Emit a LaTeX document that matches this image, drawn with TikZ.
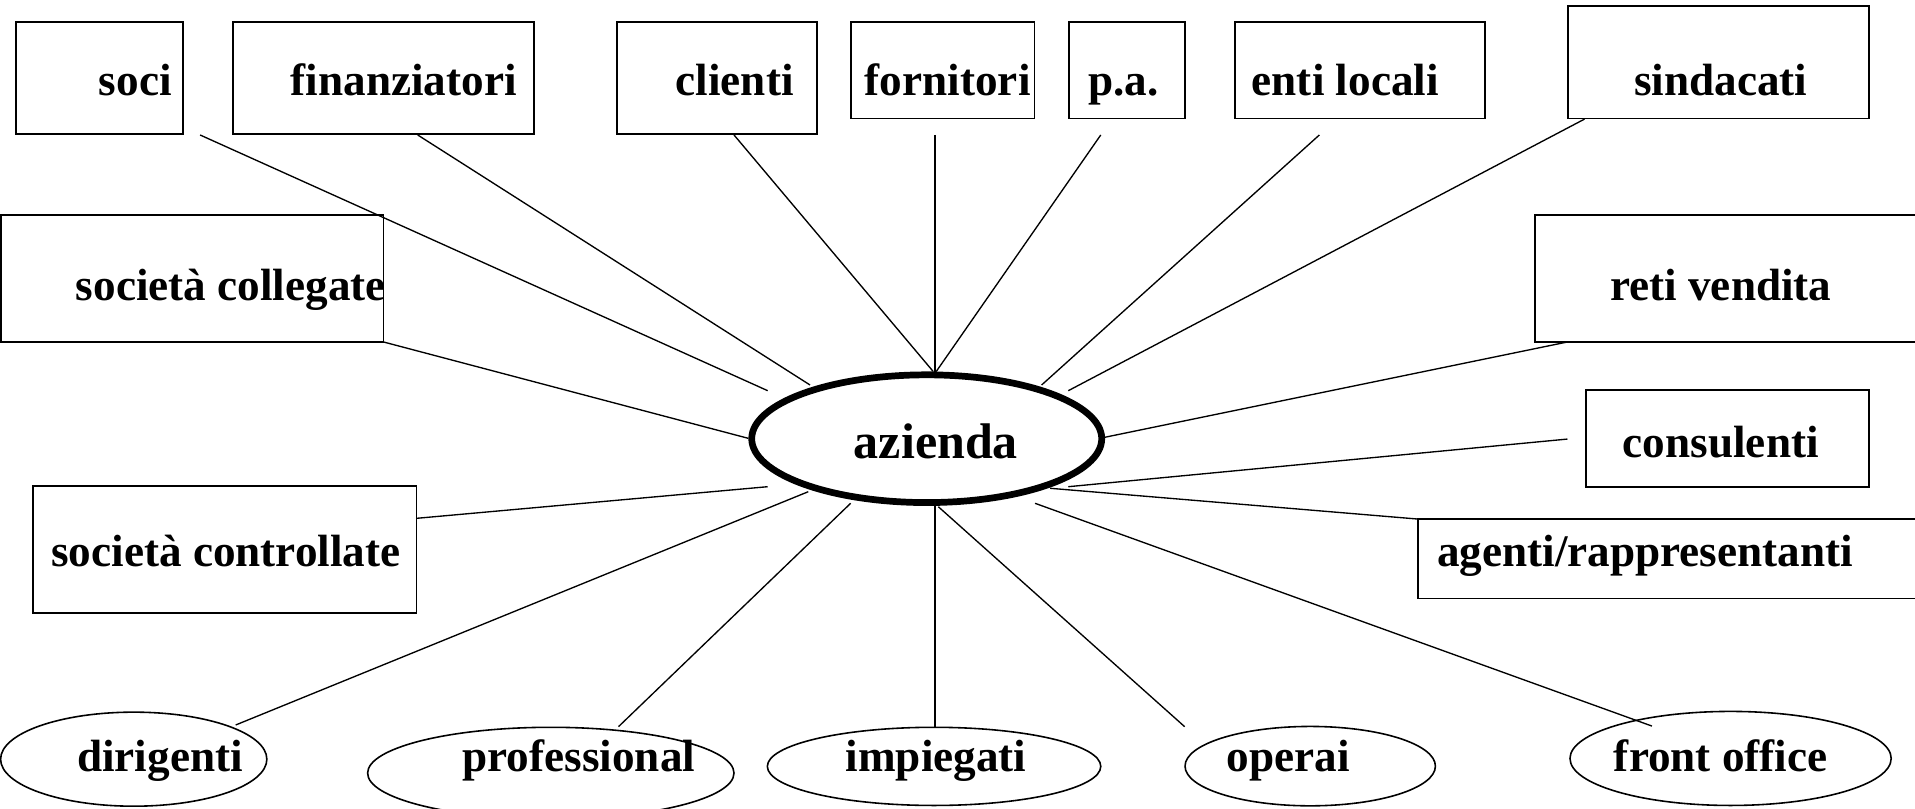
\documentclass[tikz,border=0pt]{standalone}
\usepackage{fontspec}
\setmainfont{Liberation Serif}
\usetikzlibrary{shapes.geometric,calc}
\begin{document}
\begin{tikzpicture}[x=1pt,y=-1pt,
  box/.style={draw,rectangle,line width=1.5pt,inner sep=0pt,outer sep=0pt},
  oval/.style={draw,ellipse,line width=1.3pt,inner sep=0pt,outer sep=0pt},
  hub/.style={draw,ellipse,line width=5.5pt,inner sep=0pt,outer sep=0pt},
  txt/.style={anchor=base,inner sep=0pt,font=\fontsize{37}{44}\selectfont\bfseries},
  link/.style={line width=1.1pt}]
\useasboundingbox (0,0) rectangle (1568,662);
\clip (0,0) rectangle (1568,662);
\fill[white] (0,0) rectangle (1568,662);

% boxes
\node[box,minimum width=137pt,minimum height=92pt] (soci) at (81.5,64) {};
\node[box,minimum width=246pt,minimum height=92pt] (fin) at (314,64) {};
\node[box,minimum width=164pt,minimum height=92pt] (cli) at (587,64) {};
\node[box,minimum width=150pt,minimum height=79pt] (forn) at (772,57.5) {};
\node[box,minimum width=95pt,minimum height=79pt] (pa) at (922.5,57.5) {};
\node[box,minimum width=205pt,minimum height=79pt] (enti) at (1113.5,57.5) {};
\node[box,minimum width=246pt,minimum height=92pt] (sind) at (1407,51) {};
\node[box,minimum width=313pt,minimum height=104pt] (coll) at (157.5,228) {};
\node[box,minimum width=323pt,minimum height=104pt] (reti) at (1418.5,228) {};
\node[box,minimum width=232pt,minimum height=79pt] (cons) at (1414.5,359) {};
\node[box,minimum width=314pt,minimum height=104pt] (ctrl) at (184,450) {};
\node[box,minimum width=419pt,minimum height=65pt] (agen) at (1370.5,457.5) {};

% ellipses
\node[hub,minimum width=286.6pt,minimum height=104.6pt] (az) at (758.8,359.2) {};
\node[oval,minimum width=218pt,minimum height=77pt] (dir) at (109.5,621.6) {};
\node[oval,minimum width=300pt,minimum height=75pt] (prof) at (451,633) {};
\node[oval,minimum width=273pt,minimum height=64pt] (imp) at (764.8,627.5) {};
\node[oval,minimum width=205pt,minimum height=65pt] (ope) at (1072.8,627.3) {};
\node[oval,minimum width=263pt,minimum height=77pt] (front) at (1417,621) {};

% texts
\node[txt] (t-soci) at (110.8,78) {soci};
\node[txt] (t-fin) at (330.5,78) {finanziatori};
\node[txt] (t-cli) at (601.5,78) {clienti};
\node[txt] (t-forn) at (776,78) {fornitori};
\node[txt] (t-pa) at (920,78) {p.a.};
\node[txt] (t-enti) at (1101.5,78) {enti locali};
\node[txt] (t-sind) at (1409,78) {sindacati};
\node[txt] (t-coll) at (189,246) {società collegate};
\node[txt] (t-reti) at (1409,246) {reti vendita};
\node[txt] (t-cons) at (1409,375) {consulenti};
\node[txt,font=\fontsize{41}{48}\selectfont\bfseries] (t-az) at (766.3,375.3) {azienda};
\node[txt] (t-ctrl) at (185,464) {società controllate};
\node[txt] (t-agen) at (1347,464) {agenti/rappresentanti};
\node[txt] (t-dir) at (131,632) {dirigenti};
\node[txt] (t-prof) at (474,632) {professional};
\node[txt] (t-imp) at (766.5,632) {impiegati};
\node[txt] (t-ope) at (1055,632) {operai};
\node[txt] (t-front) at (1409,632) {front office};

% free ends
\coordinate (o-soci) at (163.8,110.5);
\coordinate (o-fin) at (342,110.5);
\coordinate (o-cli) at (601,110.5);
\coordinate (o-forn) at (765.6,110.5);
\coordinate (o-pa) at (901.3,110.5);
\coordinate (o-enti) at (1080.3,110.5);
\coordinate (o-sind) at (1297.4,97.5);
\coordinate (o-reti) at (1283.4,280);
\coordinate (o-cons) at (1283.4,359.5);
\coordinate (o-ctrl) at (341,424.4);
\coordinate (o-dir) at (193,593.6);
\coordinate (o-prof) at (506.4,595);
\coordinate (o-imp) at (765.6,595);
\coordinate (o-ope) at (970,595);
\coordinate (o-front) at (1352.6,594.5);

\coordinate (h-soci) at (628.6,319.9);
\coordinate (h-fin) at (663.2,315.2);
\coordinate (h-cli) at (764.2,304.3);
\coordinate (h-top) at (765.6,304.3);
\coordinate (h-pa) at (766.5,304.3);
\coordinate (h-enti) at (852.9,315.2);
\coordinate (h-sind) at (874.7,319.9);
\coordinate (h-coll) at (612.7,358.9);
\coordinate (h-reti) at (904.8,358);
\coordinate (h-cons) at (874.7,398.5);
\coordinate (h-ctrl) at (628.6,398.5);
\coordinate (h-agen) at (859.8,399.8);
\coordinate (h-dir) at (661.8,402.6);
\coordinate (h-prof) at (696.5,412.1);
\coordinate (h-imp) at (765.6,414);
\coordinate (h-ope) at (768.3,414.9);
\coordinate (h-front) at (847.5,412.1);

\draw[link] (o-soci) -- (h-soci);
\draw[link] (o-fin) -- (h-fin);
\draw[link] (o-cli) -- (h-cli);
\draw[link] (o-forn) -- (h-top);
\draw[link] (o-pa) -- (h-pa);
\draw[link] (o-enti) -- (h-enti);
\draw[link] (o-sind) -- (h-sind);
\draw[link] (coll.south east) -- (h-coll);
\draw[link] (o-reti) -- (h-reti);
\draw[link] (o-cons) -- (h-cons);
\draw[link] (o-ctrl) -- (h-ctrl);
\draw[link] (agen.north west) -- (h-agen);
\draw[link] (o-dir) -- (h-dir);
\draw[link] (o-prof) -- (h-prof);
\draw[link] (o-imp) -- (h-imp);
\draw[link] (o-ope) -- (h-ope);
\draw[link] (o-front) -- (h-front);
\end{tikzpicture}
\end{document}
